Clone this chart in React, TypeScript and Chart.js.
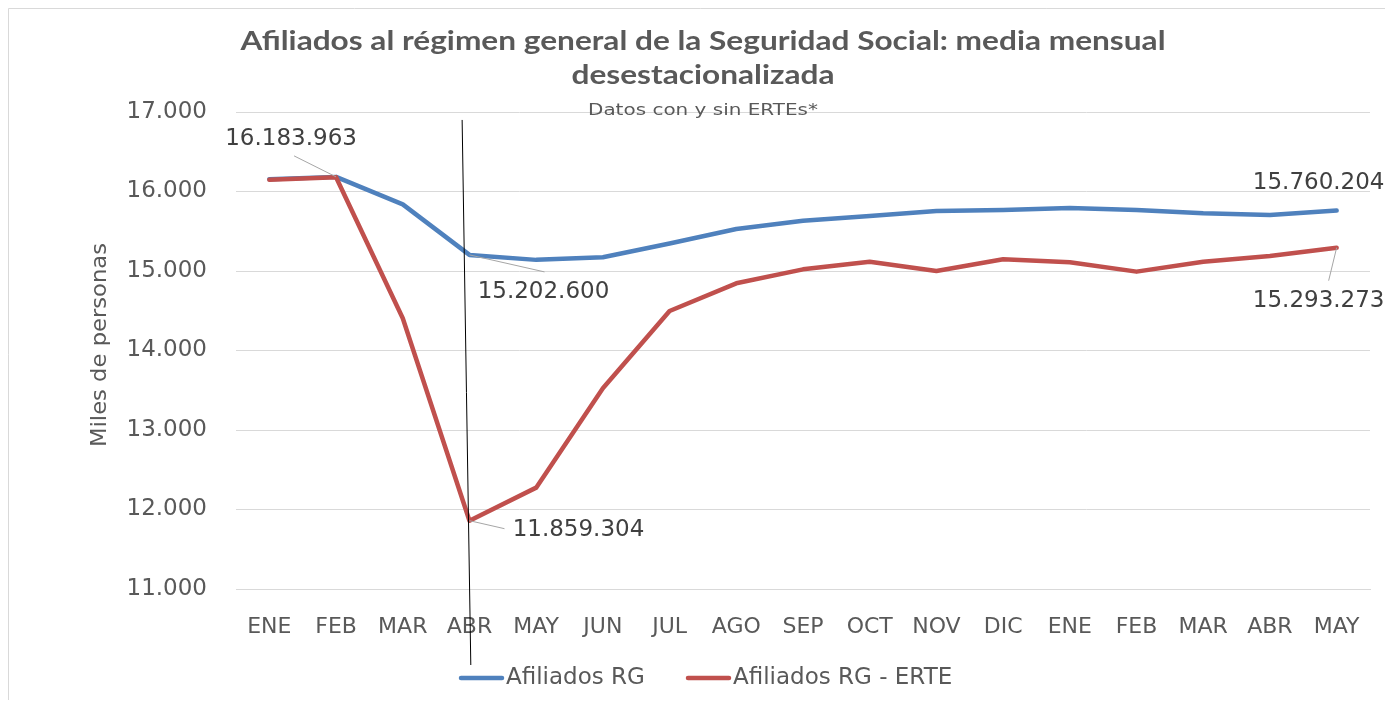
import React, { useEffect, useRef } from "react";
import { Chart, registerables } from "chart.js";

Chart.register(...registerables);

// ---- data (miles de personas) ----
const categories = ["ENE", "FEB", "MAR", "ABR", "MAY", "JUN", "JUL", "AGO", "SEP", "OCT", "NOV", "DIC", "ENE", "FEB", "MAR", "ABR", "MAY"];
const afiliadosRG = [16155, 16183.963, 15838, 15202.6, 15140, 15172, 15345, 15528, 15633, 15692, 15755, 15767, 15792, 15767, 15725, 15704, 15760.204];
const afiliadosRGmenosERTE = [16148, 16179, 14405, 11859.304, 12275, 13525, 14497, 14845, 15021, 15117, 15000, 15147, 15109, 14992, 15117, 15189, 15293.273];
const seriesNames = ["Afiliados RG", "Afiliados RG - ERTE"];
const yMin = 11000;
const yMax = 17000;
const yStep = 1000;
const titleLines = ["Afiliados al régimen general de la Seguridad Social: media mensual", "desestacionalizada"];
const subtitle = "Datos con y sin ERTEs*";
const yAxisTitle = "Miles de personas";
// labelled points: series & index
const labelledSeries = [0, 0, 1, 0, 1];
const labelledIndex = [1, 3, 3, 16, 16];
const markerCategory = 3; // ABR vertical marker

// ---- styles ----
const BLUE = "#4f81bd";
const RED = "#c0504d";
const GRID = "#d9d9d9";
const TEXT = "#595959";
const LABEL = "#404040";
const FONT = "'DejaVu Sans'";
const W = 1385;
const H = 692;
// label layout: text offset (dx,dy) and leader end (lx,ly) relative to point; null = no leader
const labelLayout = [
  { dx: -45, dy: -38, lx: -42, ly: -21 },
  { dx: 74, dy: 37, lx: 75, ly: 17 },
  { dx: 109, dy: 9, lx: 35, ly: 8 },
  { dx: -18, dy: -28, lx: null, ly: null },
  { dx: -18, dy: 53, lx: -8, ly: 33 },
];

const fmt = (v: number) => Math.round(v).toString().replace(/\B(?=(\d{3})+(?!\d))/g, ".");

function drawFitted(ctx: CanvasRenderingContext2D, text: string, cx: number, cy: number, font: string, scale: number, color: string) {
  ctx.save();
  ctx.font = font;
  ctx.fillStyle = color;
  ctx.textAlign = "center";
  ctx.textBaseline = "middle";
  ctx.translate(cx, cy);
  ctx.scale(scale, 1);
  ctx.fillText(text, 0, 0);
  ctx.restore();
}

const overlay = {
  id: "overlay",
  beforeDraw(chart: any) {
    const ctx = chart.ctx;
    ctx.save();
    ctx.fillStyle = "#ffffff";
    ctx.fillRect(0, 0, chart.width, chart.height);
    ctx.strokeStyle = GRID;
    ctx.lineWidth = 1;
    ctx.beginPath();
    ctx.moveTo(0.5, chart.height);
    ctx.lineTo(0.5, 0.5);
    ctx.lineTo(chart.width, 0.5);
    ctx.stroke();
    ctx.restore();
  },
  afterDatasetsDraw(chart: any) {
    const ctx = chart.ctx;
    const xs = chart.scales.x;
    const ys = chart.scales.y;
    const step = xs.getPixelForValue(1) - xs.getPixelForValue(0);
    const mx = xs.getPixelForValue(markerCategory);

    // vertical marker line
    ctx.save();
    ctx.strokeStyle = "#000000";
    ctx.lineWidth = 1;
    ctx.beginPath();
    ctx.moveTo(mx - 0.11 * step, ys.getPixelForValue(16900));
    ctx.lineTo(mx + 0.02 * step, chart.height - 35);
    ctx.stroke();
    ctx.restore();

    // data labels (values in persons = thousands * 1000)
    labelledSeries.forEach((s, i) => {
      const meta = chart.getDatasetMeta(s);
      const pt = meta.data[labelledIndex[i]];
      const v = chart.data.datasets[s].data[labelledIndex[i]];
      const L = labelLayout[i];
      ctx.save();
      if (L.lx !== null) {
        ctx.strokeStyle = "#a6a6a6";
        ctx.lineWidth = 1;
        ctx.beginPath();
        ctx.moveTo(pt.x, pt.y);
        ctx.lineTo(pt.x + L.lx, pt.y + (L.ly as number));
        ctx.stroke();
      }
      ctx.font = `23px ${FONT}`;
      ctx.fillStyle = LABEL;
      ctx.textAlign = "center";
      ctx.textBaseline = "middle";
      ctx.fillText(fmt(v * 1000), pt.x + L.dx, pt.y + L.dy);
      ctx.restore();
    });
  },
  afterDraw(chart: any) {
    const ctx = chart.ctx;
    const cx = 695;
    // title (fitted to reference width)
    const tFont = "bold 26px Lato";
    ctx.save();
    ctx.font = tFont;
    const tScale = 925 / ctx.measureText(titleLines[0]).width;
    ctx.restore();
    drawFitted(ctx, titleLines[0], cx, 34, tFont, tScale, TEXT);
    drawFitted(ctx, titleLines[1], cx, 68, tFont, tScale, TEXT);
    // subtitle
    const sFont = `15px ${FONT}`;
    ctx.save();
    ctx.font = sFont;
    const sScale = 230 / ctx.measureText(subtitle).width;
    ctx.restore();
    drawFitted(ctx, subtitle, cx, 103, sFont, sScale, TEXT);

    // y axis title
    const yFont = `21px ${FONT}`;
    ctx.save();
    ctx.font = yFont;
    const yScale = 204 / ctx.measureText(yAxisTitle).width;
    ctx.translate(93, 337);
    ctx.rotate(-Math.PI / 2);
    drawFitted(ctx, yAxisTitle, 0, 0, yFont, yScale, TEXT);
    ctx.restore();

    // legend
    const legendY = 670;
    const items = [
      { x: 451, color: BLUE, text: chart.data.datasets[0].label },
      { x: 678, color: RED, text: chart.data.datasets[1].label },
    ];
    items.forEach((it) => {
      ctx.save();
      ctx.strokeStyle = it.color;
      ctx.lineWidth = 4.5;
      ctx.lineCap = "round";
      ctx.beginPath();
      ctx.moveTo(it.x + 2, legendY);
      ctx.lineTo(it.x + 43, legendY);
      ctx.stroke();
      ctx.font = `23px ${FONT}`;
      ctx.fillStyle = TEXT;
      ctx.textAlign = "left";
      ctx.textBaseline = "middle";
      ctx.fillText(it.text, it.x + 47, legendY);
      ctx.restore();
    });
  },
};

export default function App() {
  const ref = useRef<HTMLCanvasElement>(null);
  useEffect(() => {
    if (!ref.current) return;
    const chart = new Chart(ref.current, {
      type: "line",
      data: {
        labels: categories,
        datasets: [
          {
            label: seriesNames[0],
            data: afiliadosRG,
            borderColor: BLUE,
            backgroundColor: BLUE,
            borderWidth: 4.5,
            pointRadius: 0,
            tension: 0,
            borderCapStyle: "round",
            borderJoinStyle: "round",
            order: 1,
          },
          {
            label: seriesNames[1],
            data: afiliadosRGmenosERTE,
            borderColor: RED,
            backgroundColor: RED,
            borderWidth: 4.5,
            pointRadius: 0,
            tension: 0,
            borderCapStyle: "round",
            borderJoinStyle: "round",
            order: 0,
          },
        ],
      },
      options: {
        animation: false,
        responsive: false,
        devicePixelRatio: 1,
        layout: { padding: { top: 104, right: 23, left: 0, bottom: 0 } },
        plugins: {
          legend: { display: false },
          title: { display: false },
          tooltip: { enabled: false },
        },
        scales: {
          x: {
            offset: true,
            grid: { display: false, drawTicks: false },
            border: { display: true, color: GRID, width: 1 },
            ticks: {
              color: TEXT,
              font: { family: "DejaVu Sans", size: 22 },
              padding: 25,
              maxRotation: 0,
              autoSkip: false,
            },
            afterFit: (s: any) => {
              s.height = H - 581;
            },
          },
          y: {
            min: yMin,
            max: yMax,
            grid: { color: GRID, lineWidth: 1, drawTicks: false },
            border: { display: false },
            ticks: {
              stepSize: yStep,
              color: TEXT,
              font: { family: "DejaVu Sans", size: 23 },
              padding: 29,
              callback: (v: any) => fmt(Number(v)),
            },
            afterFit: (s: any) => {
              s.width = 228;
            },
          },
        },
      },
      plugins: [overlay],
    });
    return () => chart.destroy();
  }, []);
  return <canvas ref={ref} width={W} height={H} style={{ display: "block" }} />;
}
